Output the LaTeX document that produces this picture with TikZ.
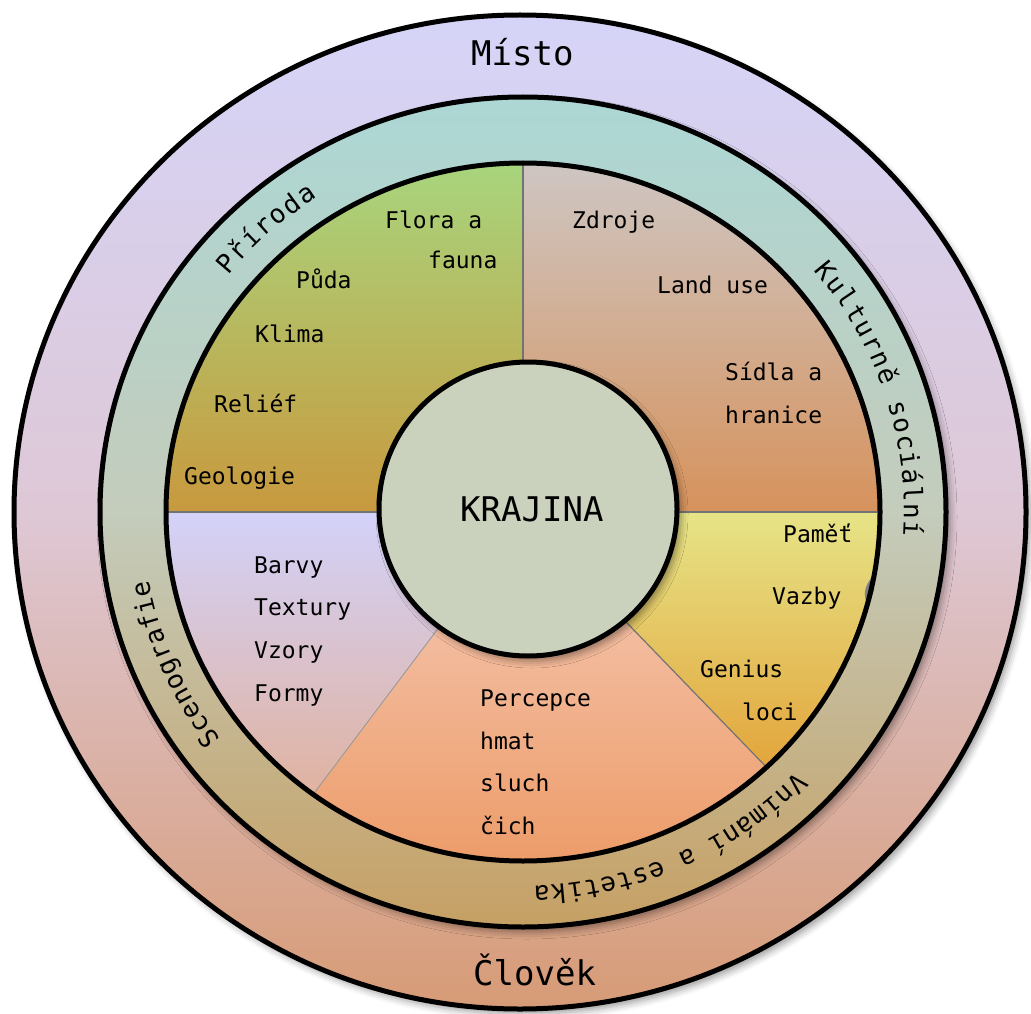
\documentclass[tikz,border=0pt]{standalone}
\usepackage{fontspec}
\setmainfont{DejaVu Sans Mono}
\usetikzlibrary{shadows.blur,calc}
\definecolor{outerTop}{RGB}{213,212,248}
\definecolor{outerMid}{RGB}{222,200,214}
\definecolor{outerBot}{RGB}{215,155,118}
\definecolor{tealTop}{RGB}{172,215,212}
\definecolor{tealMid}{RGB}{196,204,188}
\definecolor{tealBot}{RGB}{198,160,100}
\definecolor{greenTop}{RGB}{168,213,125}
\definecolor{greenBot}{RGB}{200,153,62}
\definecolor{rightTop}{RGB}{206,198,195}
\definecolor{rightBot}{RGB}{214,146,92}
\definecolor{yelTop}{RGB}{230,228,135}
\definecolor{yelBot}{RGB}{227,165,60}
\definecolor{peachTop}{RGB}{246,204,186}
\definecolor{peachBot}{RGB}{236,152,98}
\definecolor{lavTop}{RGB}{211,210,250}
\definecolor{lavBot}{RGB}{224,178,160}
\definecolor{coreFill}{RGB}{202,210,190}
\begin{document}
\begin{tikzpicture}[x=1pt,y=1pt,
  ringline/.style={line width=5pt, draw=black},
  divline/.style={line width=1.2pt, draw=black!55},
  lbl/.style={anchor=base west, inner sep=0pt, font=\fontsize{23}{27}\selectfont},
  biglbl/.style={anchor=base west, inner sep=0pt, font=\fontsize{34}{40}\selectfont},
  ringch/.style={anchor=base, inner sep=0pt, font=\fontsize{26}{30}\selectfont},
  softshadow/.style={blur shadow={shadow xshift=4pt, shadow yshift=-5pt, shadow blur radius=7pt, shadow opacity=40}}
]
\useasboundingbox (0,0) rectangle (1031,-1014);
\coordinate (O) at (520,-512);
\coordinate (C) at (523,-512);
\coordinate (K) at (528,-509);

% outer ring
\path[softshadow, top color=outerTop, bottom color=outerBot, middle color=outerMid] (O) ellipse[x radius=506, y radius=497];
\draw[ringline] (O) ellipse[x radius=506, y radius=497];

% teal ring
\path[softshadow, top color=tealTop, bottom color=tealBot, middle color=tealMid] (C) ellipse[x radius=423, y radius=415];
\draw[ringline] (C) ellipse[x radius=423, y radius=415];

% sectors
\path[top color=greenTop, bottom color=greenBot] (C) ++(90:357 and 349) arc[start angle=90, end angle=180, x radius=357, y radius=349] -- ($(C)+(180:130)$) arc[start angle=180, end angle=90, radius=130] -- cycle;
\path[top color=rightTop, bottom color=rightBot] (C) ++(0:357 and 349) arc[start angle=0, end angle=90, x radius=357, y radius=349] -- ($(C)+(90:130)$) arc[start angle=90, end angle=0, radius=130] -- cycle;
\path[top color=yelTop, bottom color=yelBot] (C) ++(-47:357 and 349) arc[start angle=-47, end angle=0, x radius=357, y radius=349] -- ($(C)+(0:130)$) arc[start angle=0, end angle=-47, radius=130] -- cycle;
\path[top color=peachTop, bottom color=peachBot] (C) ++(-126:357 and 349) arc[start angle=-126, end angle=-47, x radius=357, y radius=349] -- ($(C)+(-47:130)$) arc[start angle=-47, end angle=-126, radius=130] -- cycle;
\path[top color=lavTop, bottom color=lavBot] (C) ++(180:357 and 349) arc[start angle=180, end angle=234, x radius=357, y radius=349] -- ($(C)+(234:130)$) arc[start angle=234, end angle=180, radius=130] -- cycle;

% sector dividers
\draw[divline] ($(C)+(90:130)$) -- ($(C)+(90:357 and 349)$);
\draw[divline] ($(C)+(0:130)$) -- ($(C)+(0:357 and 349)$);
\draw[divline] ($(C)+(180:130)$) -- ($(C)+(180:357 and 349)$);
\draw[divline] ($(C)+(-47:130)$) -- ($(C)+(-47:357 and 349)$);
\draw[divline, draw=black!40, line width=0.9pt] ($(C)+(234:130)$) -- ($(C)+(234:357 and 349)$);

% small grey mark at the inner ring edge
\fill[black!50] (872,-577) .. controls (863,-588) and (863,-598) .. (869,-606) -- (874,-590) -- cycle;

% inner ring outline
\draw[ringline] (C) ellipse[x radius=357, y radius=349];

% core
\path[softshadow, fill=coreFill] (K) ellipse[x radius=149, y radius=147];
\draw[ringline] (K) ellipse[x radius=149, y radius=147];

% labels
\node[biglbl] (misto) at (471,-66) {Místo};
\node[biglbl] (krajina) at (460,-521) {KRAJINA};
\node[biglbl] (clovek) at (473,-985) {Člověk};

\node[lbl] (flora) at (385,-228) {Flora a};
\node[lbl] (fauna) at (428,-268) {fauna};
\node[lbl] (puda) at (296,-288) {Půda};
\node[lbl] (klima) at (255,-342) {Klima};
\node[lbl] (relief) at (214,-412) {Reliéf};
\node[lbl] (geol) at (184,-484) {Geologie};
\node[lbl] (zdroje) at (572,-228) {Zdroje};
\node[lbl] (landuse) at (657,-293) {Land use};
\node[lbl] (sidla) at (725,-380) {Sídla a};
\node[lbl] (hranice) at (725,-423) {hranice};
\node[lbl] (pamet) at (783,-542) {Paměť};
\node[lbl] (vazby) at (772,-604) {Vazby};
\node[lbl] (genius) at (700,-677) {Genius};
\node[lbl] (loci) at (742,-720) {loci};
\node[lbl] (barvy) at (254,-573) {Barvy};
\node[lbl] (textury) at (254,-615) {Textury};
\node[lbl] (vzory) at (254,-658) {Vzory};
\node[lbl] (formy) at (254,-701) {Formy};
\node[lbl] (percepce) at (480,-706) {Percepce};
\node[lbl] (hmat) at (480,-749) {hmat};
\node[lbl] (sluch) at (480,-791) {sluch};
\node[lbl] (cich) at (480,-834) {čich};

% ring texts (clockwise, tops outward)
\foreach \ch [count=\i] in {P,ř,í,r,o,d,a} {
  \pgfmathsetmacro\ang{131.7 + (3 - (\i-1))*2.6}
  \node[ringch, rotate=\ang-90] (pr\i) at ($(C)+(\ang:381 and 374)$) {\ch};
}
\foreach \ch [count=\i] in {K,u,l,t,u,r,n,ě,{},s,o,c,i,á,l,n,í} {
  \pgfmathsetmacro\ang{18.3 + (8 - (\i-1))*2.6}
  \node[ringch, rotate=\ang-90] (ks\i) at ($(C)+(\ang:381 and 374)$) {\ch};
}
\foreach \ch [count=\i] in {V,n,í,m,á,n,í,{},a,{},e,s,t,e,t,i,k,a} {
  \pgfmathsetmacro\ang{-66.2 + (8.5 - (\i-1))*2.47}
  \node[ringch, rotate=\ang-90] (ve\i) at ($(C)+(\ang:381 and 374)$) {\ch};
}
\foreach \ch [count=\i] in {S,c,e,n,o,g,r,a,f,i,e} {
  \pgfmathsetmacro\ang{204 + (5 - (\i-1))*2.45}
  \node[ringch, rotate=\ang-90] (sc\i) at ($(C)+(\ang:381 and 374)$) {\ch};
}
\end{tikzpicture}
\end{document}
